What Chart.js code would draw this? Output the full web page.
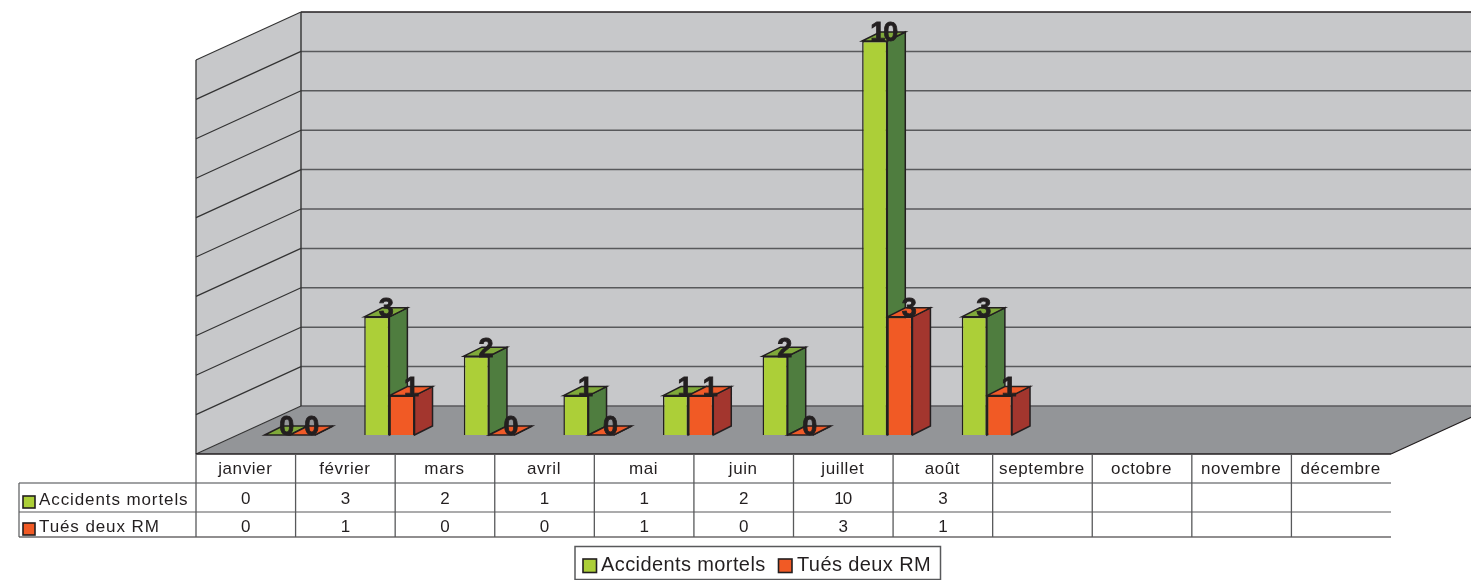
<!DOCTYPE html>
<html lang="fr">
<head>
<meta charset="utf-8">
<title>Accidents mortels</title>
<script src="https://cdn.jsdelivr.net/npm/chart.js@4"></script>
<style>
  html, body { margin: 0; padding: 0; background: #fff; overflow: hidden; }
  canvas { display: block; }
</style>
</head>
<body>
<canvas id="chart_mois" width="1471" height="580"></canvas>
<script>
const mois = ['janvier', 'février', 'mars', 'avril', 'mai', 'juin', 'juillet', 'août', 'septembre', 'octobre', 'novembre', 'décembre'];
const accidents = [0, 3, 2, 1, 1, 2, 10, 3, null, null, null, null];
const tues = [0, 1, 0, 0, 1, 0, 3, 1, null, null, null, null];
const nomAccidents = 'Accidents mortels';
const nomTues = 'Tués deux RM';
const ticks = [0, 1, 2, 3, 4, 5, 6, 7, 8, 9, 10];

const police = '"Liberation Sans", Arial, sans-serif';
const noir = '#231f20';
const couleurs = [
  { face: '#accf38', cote: '#4f7d3f', dessus: '#7fa93a' },
  { face: '#f15a25', cote: '#a3362e', dessus: '#ef5a28' }
];

// décalages de la perspective par rapport au plan des barres
const barreDx = 18, barreDy = -9;     // profondeur d'une barre
const murDx = 61, murDy = -29;        // mur du fond
const avantDx = -44, avantDy = 19;    // bord avant du sol

function poly(ctx, pts, fill, stroke, lw) {
  ctx.beginPath();
  pts.forEach((p, i) => i ? ctx.lineTo(p[0], p[1]) : ctx.moveTo(p[0], p[1]));
  ctx.closePath();
  if (fill) { ctx.fillStyle = fill; ctx.fill(); }
  if (stroke) { ctx.strokeStyle = stroke; ctx.lineWidth = lw || 1.5; ctx.stroke(); }
}

function ligne(ctx, x1, y1, x2, y2, couleur, lw) {
  ctx.beginPath();
  ctx.moveTo(x1, y1);
  ctx.lineTo(x2, y2);
  ctx.strokeStyle = couleur;
  ctx.lineWidth = lw;
  ctx.stroke();
}

// murs, sol et grille
const decor = {
  id: 'decor',
  beforeDatasetsDraw(chart) {
    const ctx = chart.ctx, y = chart.scales.y, a = chart.chartArea;
    const bas = y.getPixelForValue(0), haut = y.getPixelForValue(10);
    const g = a.left + avantDx, d = a.right + avantDx;
    const fx = a.left + murDx, fxd = a.right + murDx;
    ctx.save();
    poly(ctx, [[fx, haut + murDy], [fxd, haut + murDy], [fxd, bas + murDy], [fx, bas + murDy]], '#c7c8ca');
    poly(ctx, [[g, haut + avantDy], [fx, haut + murDy], [fx, bas + murDy], [g, bas + avantDy]], '#c7c8ca');
    poly(ctx, [[g, bas + avantDy], [d, bas + avantDy], [fxd, bas + murDy], [fx, bas + murDy]], '#939598');
    ticks.forEach(t => {
      const py = y.getPixelForValue(t);
      ligne(ctx, fx, py + murDy, fxd, py + murDy, t === 10 ? noir : '#58595b', 1.5);
      ligne(ctx, g, py + avantDy, fx, py + murDy, '#333', 1.2);
    });
    ligne(ctx, g, haut + avantDy, g, bas + avantDy, '#333', 1.3);
    ligne(ctx, fx, haut + murDy, fx, bas + murDy, '#333', 1.4);
    ligne(ctx, g, bas + avantDy, d, bas + avantDy, noir, 1.5);
    ligne(ctx, d, bas + avantDy, fxd, bas + murDy, noir, 1.2);

    // côtés et dessus des barres, derrière les faces
    chart.data.datasets.forEach((ds, i) => {
      chart.getDatasetMeta(i).data.forEach((b, k) => {
        if (ds.data[k] === null) return;
        const x0 = b.x - b.width / 2, x1 = b.x + b.width / 2;
        poly(ctx, [[x1, b.y], [x1 + barreDx, b.y + barreDy], [x1 + barreDx, b.base + barreDy], [x1, b.base]], couleurs[i].cote, noir, 1.5);
        poly(ctx, [[x0, b.y], [x0 + barreDx, b.y + barreDy], [x1 + barreDx, b.y + barreDy], [x1, b.y]], couleurs[i].dessus, noir, 1.5);
      });
    });
    ctx.restore();
  },
  afterDatasetsDraw(chart) {
    const ctx = chart.ctx;
    ctx.save();
    // étiquettes de valeurs
    ctx.font = 'bold 27px ' + police;
    ctx.letterSpacing = '-2px';
    ctx.fillStyle = noir;
    ctx.strokeStyle = noir;
    ctx.lineWidth = 0.8;
    ctx.textAlign = 'center';
    ctx.textBaseline = 'middle';
    chart.data.datasets.forEach((ds, i) => {
      chart.getDatasetMeta(i).data.forEach((b, k) => {
        if (ds.data[k] === null) return;
        ctx.fillText(String(ds.data[k]), b.x + 8.5, b.y - 7);
        ctx.strokeText(String(ds.data[k]), b.x + 8.5, b.y - 7);
      });
    });
    ctx.restore();
    tableau(chart);
    legende(chart);
  }
};

// table de données sous le graphique
function tableau(chart) {
  const ctx = chart.ctx, a = chart.chartArea;
  const g = a.left + avantDx, d = a.right + avantDx, larg = (d - g) / mois.length;
  const y0 = 454, y1 = 483, y2 = 512, y3 = 537, gauche = 19;
  ctx.save();
  ligne(ctx, gauche, y1, d, y1, '#808285', 1.5);
  ligne(ctx, gauche, y2, d, y2, '#58595b', 1.2);
  ligne(ctx, gauche, y3, d, y3, noir, 1.2);
  ligne(ctx, gauche, y1, gauche, y3, '#58595b', 1.2);
  for (let i = 0; i < mois.length; i++) {
    ligne(ctx, g + i * larg, y0, g + i * larg, y3, '#58595b', 1.3);
  }
  ctx.fillStyle = noir;
  ctx.textAlign = 'center';
  ctx.textBaseline = 'middle';
  mois.forEach((m, i) => {
    const cx = g + (i + 0.5) * larg - 0.5;
    ctx.font = '17px ' + police;
    ctx.letterSpacing = '0.6px';
    ctx.fillText(m, cx, (y0 + y1) / 2 + 1);
    ctx.letterSpacing = '-1px';
    if (accidents[i] !== null) ctx.fillText(String(accidents[i]), cx, (y1 + y2) / 2 + 2);
    if (tues[i] !== null) ctx.fillText(String(tues[i]), cx, (y2 + y3) / 2 + 2.5);
  });
  ctx.textAlign = 'left';
  ctx.font = '17px ' + police;
  ctx.letterSpacing = '0.9px';
  ctx.fillText(nomAccidents, 39, (y1 + y2) / 2 + 3);
  ctx.fillText(nomTues, 39, (y2 + y3) / 2 + 3);
  ctx.restore();
  carre(ctx, 23, 496, 12, couleurs[0].face);
  carre(ctx, 23, 523, 12, couleurs[1].face);
}

function carre(ctx, x, y, c, couleur) {
  ctx.fillStyle = couleur;
  ctx.fillRect(x, y, c, c);
  ctx.strokeStyle = noir;
  ctx.lineWidth = 1.6;
  ctx.strokeRect(x, y, c, c);
}

function legende(chart) {
  const ctx = chart.ctx;
  ctx.save();
  ctx.strokeStyle = '#58595b';
  ctx.lineWidth = 1.5;
  ctx.strokeRect(575, 546.5, 365.5, 33);
  carre(ctx, 583, 559, 13.5, couleurs[0].face);
  carre(ctx, 778.5, 559, 13.5, couleurs[1].face);
  ctx.fillStyle = noir;
  ctx.font = '20px ' + police;
  ctx.letterSpacing = '0.4px';
  ctx.textAlign = 'left';
  ctx.textBaseline = 'middle';
  ctx.fillText(nomAccidents, 601, 565.5);
  ctx.fillText(nomTues, 797, 565.5);
  ctx.restore();
}

new Chart(document.getElementById('chart_mois'), {
  type: 'bar',
  plugins: [decor],
  data: {
    labels: mois,
    datasets: [
      { label: nomAccidents, data: accidents, backgroundColor: couleurs[0].face, borderColor: noir, borderWidth: 1.5, barPercentage: 1, categoryPercentage: 0.505 },
      { label: nomTues, data: tues, backgroundColor: couleurs[1].face, borderColor: noir, borderWidth: 1.5, barPercentage: 1, categoryPercentage: 0.505 }
    ]
  },
  options: {
    responsive: false,
    animation: false,
    devicePixelRatio: 1,
    layout: { padding: { left: 240, right: 36, top: 41, bottom: 145 } },
    scales: {
      x: { display: false, grid: { display: false } },
      y: { display: false, min: 0, max: 10, grid: { display: false } }
    },
    plugins: {
      legend: { display: false },
      title: { display: false },
      tooltip: { enabled: false }
    }
  }
});
</script>
</body>
</html>
